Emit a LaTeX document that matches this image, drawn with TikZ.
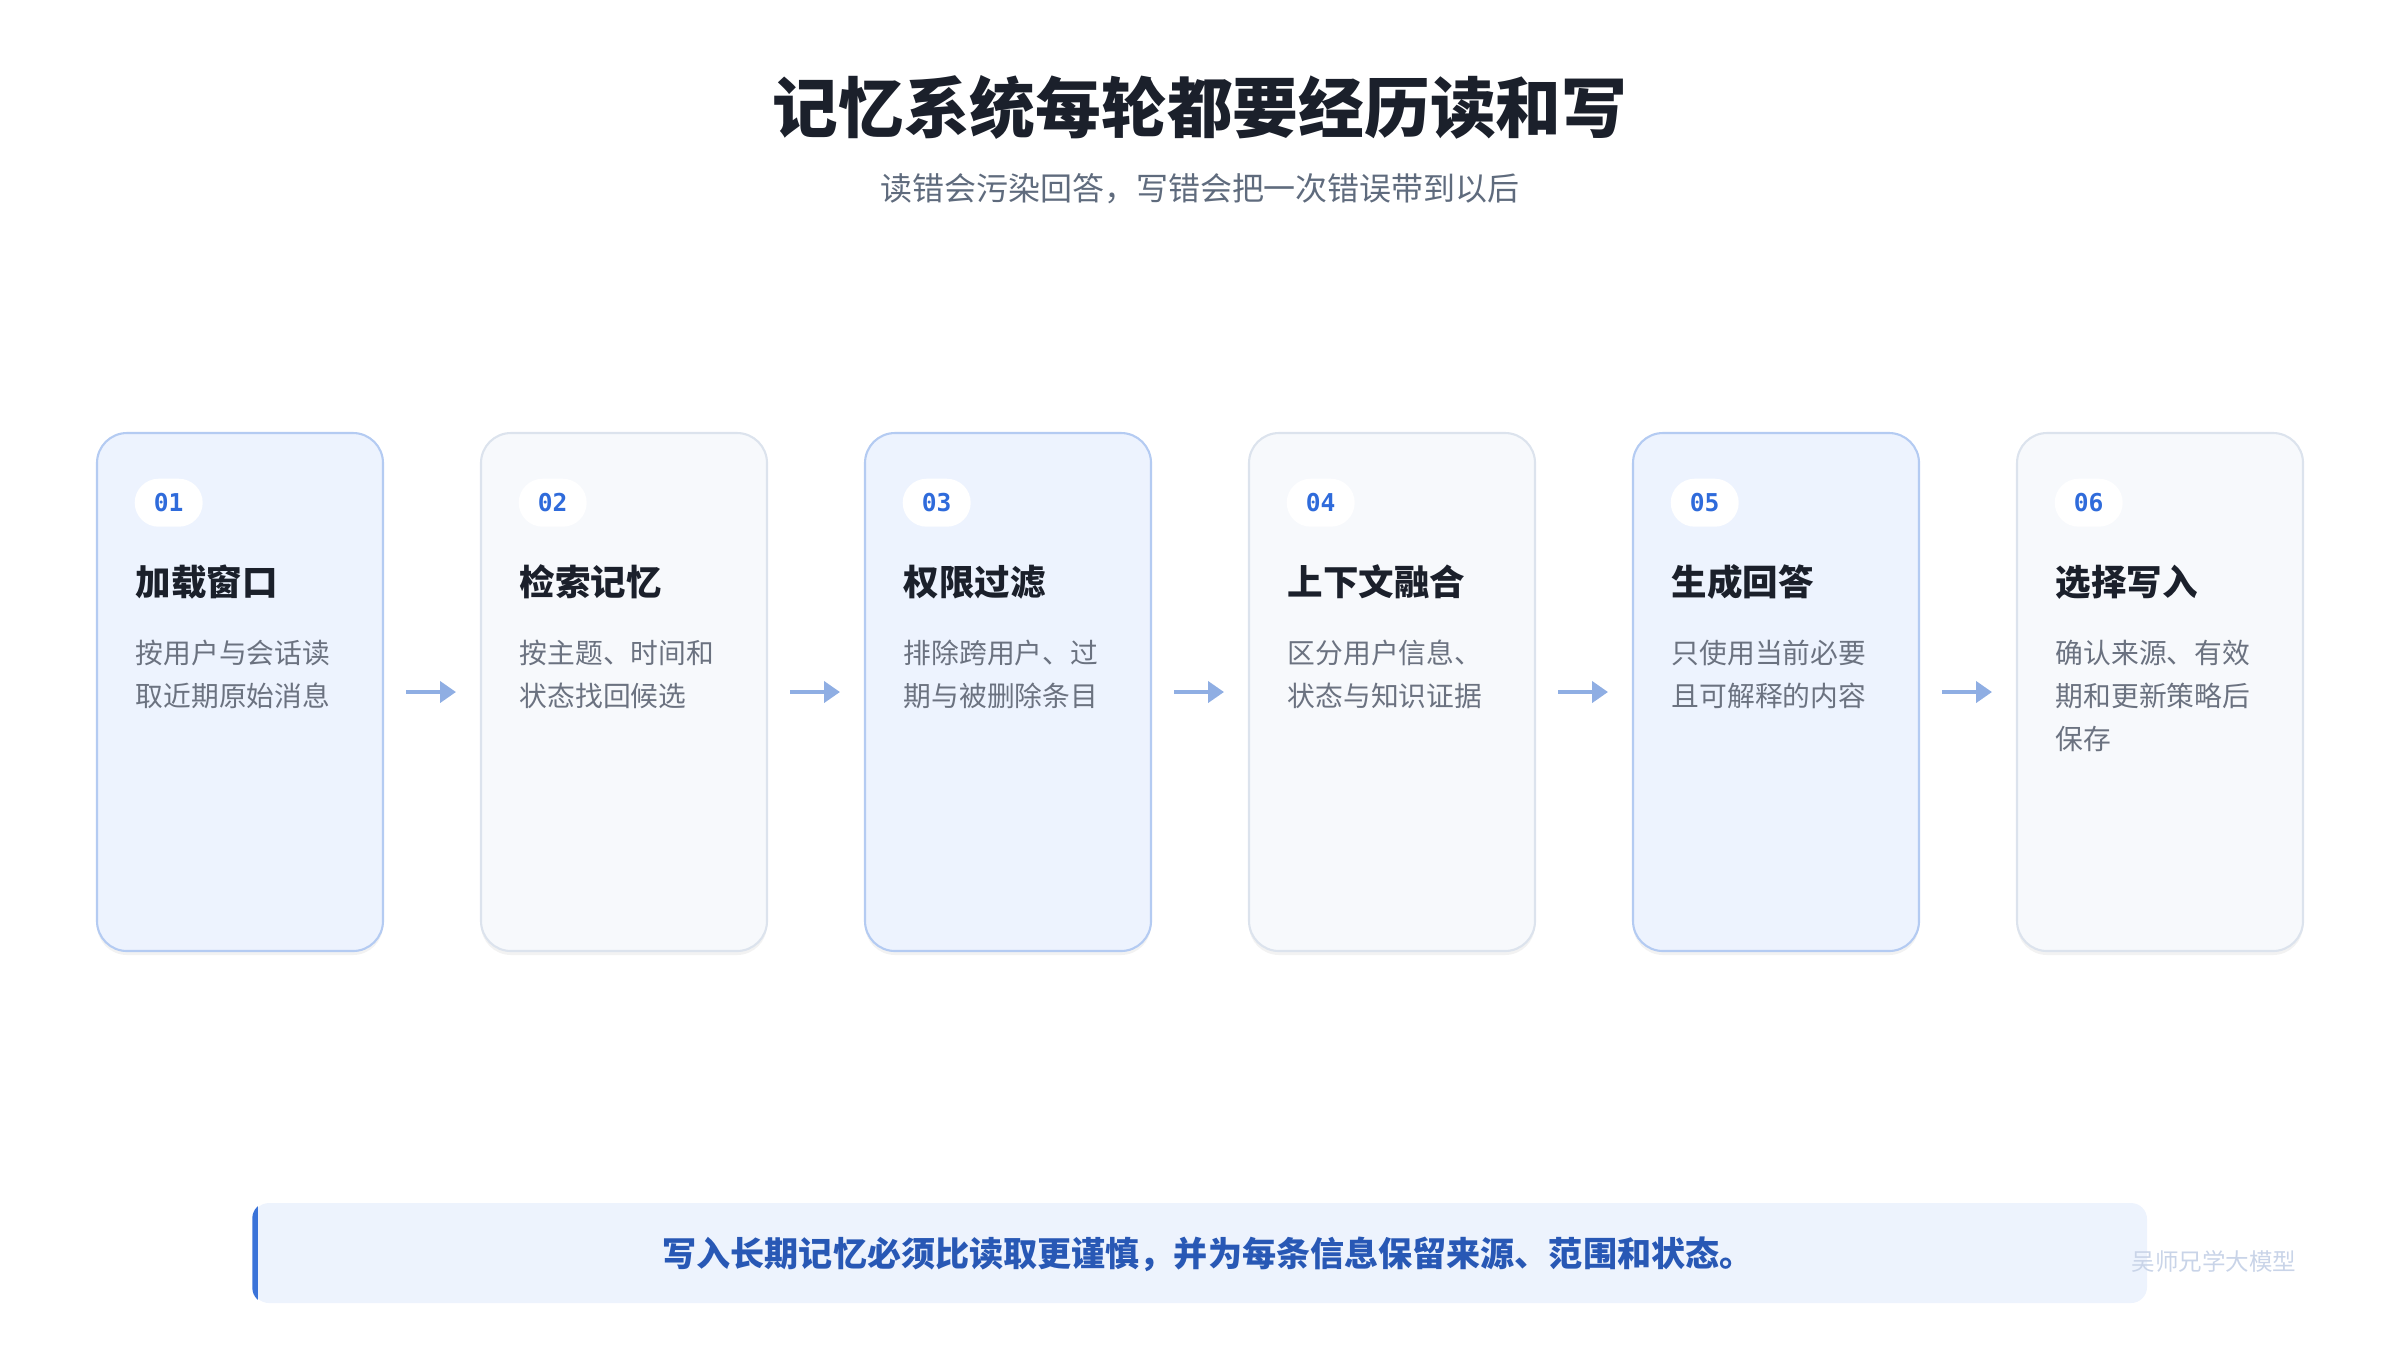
\documentclass[tikz,border=0pt]{standalone}
\usepackage{fontspec}
\setmainfont{Noto Sans CJK SC}
\newfontfamily\numfont{DejaVu Sans Mono}
\usetikzlibrary{arrows.meta, positioning, calc, shadows}

\definecolor{inkdark}{HTML}{1B202B}
\definecolor{inkgray}{HTML}{5F6B7D}
\definecolor{descgray}{HTML}{6B7280}
\definecolor{blueface}{HTML}{EDF3FE}
\definecolor{blueline}{HTML}{B4CBF2}
\definecolor{grayface}{HTML}{F7F9FC}
\definecolor{grayline}{HTML}{DCE3ED}
\definecolor{arrowblue}{HTML}{8FAEE3}
\definecolor{numblue}{HTML}{2F6BDB}
\definecolor{barface}{HTML}{EDF3FD}
\definecolor{barline}{HTML}{3A73D9}
\definecolor{bartext}{HTML}{2858B5}
\definecolor{markgray}{HTML}{C9D4E8}

% two or three lines of card text, first baseline is the node's base
\newcommand{\stagelines}[1]{\begin{tabular}[t]{@{}l@{}}#1\end{tabular}}

\begin{document}
\begin{tikzpicture}[
    card/.style={rectangle, rounded corners=0.3cm, minimum width=2.86cm, minimum height=5.18cm, inner sep=0pt, outer sep=0pt, line width=0.6pt,
        drop shadow={shadow xshift=0pt, shadow yshift=-0.04cm, opacity=0.05, fill=black}},
    cardblue/.style={card, draw=blueline, fill=blueface},
    cardgray/.style={card, draw=grayline, fill=grayface},
    badge/.style={rectangle, rounded corners=0.24cm, fill=white, minimum width=0.68cm, minimum height=0.48cm, inner sep=0pt,
        font=\numfont\bfseries\fontsize{7}{8}\selectfont, text=numblue, anchor=north west},
    stagename/.style={anchor=base west, inner sep=0pt, font=\bfseries\fontsize{10.1}{12}\selectfont, text=inkdark},
    stagetext/.style={anchor=base west, inner sep=0pt, font=\fontsize{7.9}{12.2}\selectfont, text=descgray},
    arrow/.style={-{Triangle[length=0.16cm, width=0.21cm]}, line width=1.4pt, draw=arrowblue, shorten <=0.23cm, shorten >=0.25cm}
]
\useasboundingbox (0,0) rectangle (24,-13.5);

% Heading
\node[inner sep=0pt, anchor=base, font=\bfseries\fontsize{18.7}{22}\selectfont, text=inkdark] (title) at (12,-1.32) {记忆系统每轮都要经历读和写};
\node[inner sep=0pt, anchor=base, font=\fontsize{9.1}{11}\selectfont, text=inkgray] (subtitle) at (12,-2.005) {读错会污染回答，写错会把一次错误带到以后};

% Cards
\node[cardblue, anchor=north west] (c1) at (0.97,-4.33) {};
\node[cardgray, right=0.98cm of c1] (c2) {};
\node[cardblue, right=0.98cm of c2] (c3) {};
\node[cardgray, right=0.98cm of c3] (c4) {};
\node[cardblue, right=0.98cm of c4] (c5) {};
\node[cardgray, right=0.98cm of c5] (c6) {};

% Card contents
\node[badge] (n1) at ($(c1.north west)+(0.37,-0.45)$) {01};
\node[stagename] (t1) at ($(c1.north west)+(0.38,-1.625)$) {加载窗口};
\node[stagetext] (d1) at ($(c1.north west)+(0.38,-2.305)$) {\stagelines{按用户与会话读\\取近期原始消息}};

\node[badge] (n2) at ($(c2.north west)+(0.37,-0.45)$) {02};
\node[stagename] (t2) at ($(c2.north west)+(0.38,-1.625)$) {检索记忆};
\node[stagetext] (d2) at ($(c2.north west)+(0.38,-2.305)$) {\stagelines{按主题、时间和\\状态找回候选}};

\node[badge] (n3) at ($(c3.north west)+(0.37,-0.45)$) {03};
\node[stagename] (t3) at ($(c3.north west)+(0.38,-1.625)$) {权限过滤};
\node[stagetext] (d3) at ($(c3.north west)+(0.38,-2.305)$) {\stagelines{排除跨用户、过\\期与被删除条目}};

\node[badge] (n4) at ($(c4.north west)+(0.37,-0.45)$) {04};
\node[stagename] (t4) at ($(c4.north west)+(0.38,-1.625)$) {上下文融合};
\node[stagetext] (d4) at ($(c4.north west)+(0.38,-2.305)$) {\stagelines{区分用户信息、\\状态与知识证据}};

\node[badge] (n5) at ($(c5.north west)+(0.37,-0.45)$) {05};
\node[stagename] (t5) at ($(c5.north west)+(0.38,-1.625)$) {生成回答};
\node[stagetext] (d5) at ($(c5.north west)+(0.38,-2.305)$) {\stagelines{只使用当前必要\\且可解释的内容}};

\node[badge] (n6) at ($(c6.north west)+(0.37,-0.45)$) {06};
\node[stagename] (t6) at ($(c6.north west)+(0.38,-1.625)$) {选择写入};
\node[stagetext] (d6) at ($(c6.north west)+(0.38,-2.305)$) {\stagelines{确认来源、有效\\期和更新策略后\\保存}};

% Connections
\draw[arrow] (c1) -- (c2);
\draw[arrow] (c2) -- (c3);
\draw[arrow] (c3) -- (c4);
\draw[arrow] (c4) -- (c5);
\draw[arrow] (c5) -- (c6);

% Bottom note
\node[rectangle, rounded corners=0.16cm, fill=barface, minimum width=18.94cm, minimum height=1.0cm, inner sep=0pt] (bar) at (12,-12.53) {};
\begin{scope}
  \clip[rounded corners=0.16cm] (bar.north west) rectangle (bar.south east);
  \fill[barline] (bar.north west) rectangle ([xshift=0.06cm]bar.south west);
\end{scope}
\node[inner sep=0pt, anchor=base, font=\bfseries\fontsize{9.7}{11}\selectfont, text=bartext] (note) at (12.08,-12.66) {写入长期记忆必须比读取更谨慎，并为每条信息保留来源、范围和状态。};
\node[inner sep=0pt, anchor=base, font=\fontsize{6.7}{8}\selectfont, text=markgray] (mark) at (22.14,-12.70) {吴师兄学大模型};

\end{tikzpicture}
\end{document}
